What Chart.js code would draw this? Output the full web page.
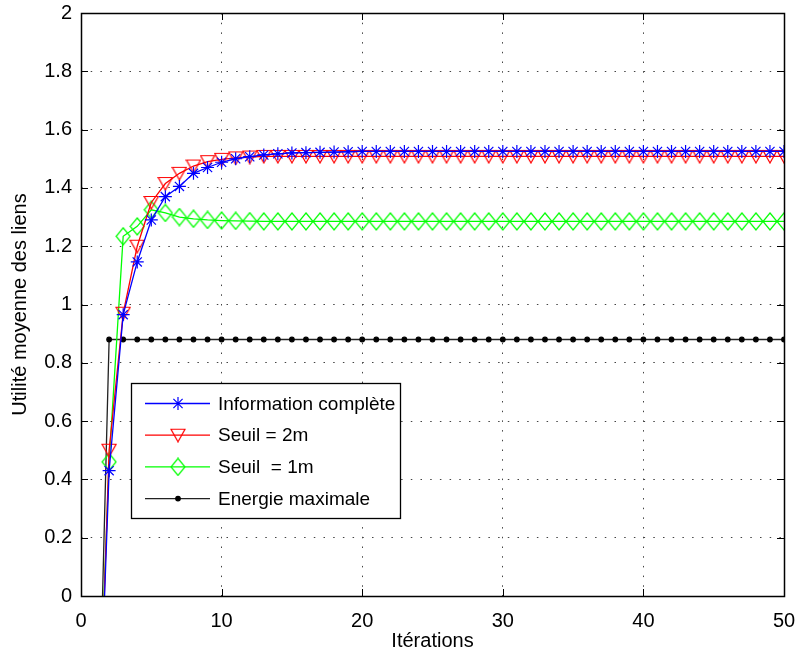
<!DOCTYPE html>
<html>
<head>
<meta charset="utf-8">
<script src="https://cdn.jsdelivr.net/npm/chart.js@4.4.0/dist/chart.umd.min.js"></script>
<style>
html, body { margin: 0; padding: 0; background: #fff; }
#wrap { width: 797px; height: 656px; }
</style>
</head>
<body>
<div id="wrap"><canvas id="chart" width="797" height="656"></canvas></div>
<script>
const iterations = [
    1, 2, 3, 4, 5, 6, 7, 8, 9, 10,
    11, 12, 13, 14, 15, 16, 17, 18, 19, 20,
    21, 22, 23, 24, 25, 26, 27, 28, 29, 30,
    31, 32, 33, 34, 35, 36, 37, 38, 39, 40,
    41, 42, 43, 44, 45, 46, 47, 48, 49, 50
];

const infoComplete = [
    -0.9, 0.43, 0.965, 1.146, 1.29, 1.37, 1.405, 1.45, 1.47, 1.488,
    1.5, 1.507, 1.513, 1.517, 1.52, 1.521, 1.522, 1.523, 1.524, 1.525,
    1.525, 1.525, 1.525, 1.525, 1.525, 1.525, 1.525, 1.525, 1.525, 1.525,
    1.525, 1.525, 1.525, 1.525, 1.525, 1.525, 1.525, 1.525, 1.525, 1.525,
    1.525, 1.525, 1.525, 1.525, 1.525, 1.525, 1.525, 1.525, 1.525, 1.525
];

const seuil2m = [
    -0.95, 0.5, 0.97, 1.2, 1.35, 1.415, 1.45, 1.475, 1.49, 1.498,
    1.503, 1.506, 1.508, 1.508, 1.508, 1.508, 1.508, 1.508, 1.508, 1.508,
    1.508, 1.508, 1.508, 1.508, 1.508, 1.508, 1.508, 1.508, 1.508, 1.508,
    1.508, 1.508, 1.508, 1.508, 1.508, 1.508, 1.508, 1.508, 1.508, 1.508,
    1.508, 1.508, 1.508, 1.508, 1.508, 1.508, 1.508, 1.508, 1.508, 1.508
];

const seuil1m = [
    -0.8, 0.46, 1.234, 1.268, 1.325, 1.314, 1.3, 1.294, 1.29, 1.288,
    1.287, 1.286, 1.285, 1.285, 1.285, 1.285, 1.285, 1.285, 1.285, 1.285,
    1.285, 1.285, 1.285, 1.285, 1.285, 1.285, 1.285, 1.285, 1.285, 1.285,
    1.285, 1.285, 1.285, 1.285, 1.285, 1.285, 1.285, 1.285, 1.285, 1.285,
    1.285, 1.285, 1.285, 1.285, 1.285, 1.285, 1.285, 1.285, 1.285, 1.285
];

const energieMax = [
    -1.0, 0.88, 0.88, 0.88, 0.88, 0.88, 0.88, 0.88, 0.88, 0.88,
    0.88, 0.88, 0.88, 0.88, 0.88, 0.88, 0.88, 0.88, 0.88, 0.88,
    0.88, 0.88, 0.88, 0.88, 0.88, 0.88, 0.88, 0.88, 0.88, 0.88,
    0.88, 0.88, 0.88, 0.88, 0.88, 0.88, 0.88, 0.88, 0.88, 0.88,
    0.88, 0.88, 0.88, 0.88, 0.88, 0.88, 0.88, 0.88, 0.88, 0.88
];

const seriesLabels = ['Information complète', 'Seuil = 2m', 'Seuil  = 1m', 'Energie maximale'];
const xTicks = [0, 10, 20, 30, 40, 50];
const yTicks = [0, 0.2, 0.4, 0.6, 0.8, 1, 1.2, 1.4, 1.6, 1.8, 2];
const xTitle = 'Itérations';
const yTitle = 'Utilité moyenne des liens';

const FONT = 'Liberation Sans, Arial, Helvetica, sans-serif';

// matlab-like open markers
function triangleMarker(color) {
    const c = document.createElement('canvas');
    c.width = 16; c.height = 15;
    const g = c.getContext('2d');
    g.strokeStyle = color;
    g.lineWidth = 1.2;
    g.beginPath();
    g.moveTo(1, 1.5);
    g.lineTo(15, 1.5);
    g.lineTo(8, 14);
    g.closePath();
    g.stroke();
    return c;
}

function diamondMarker(color) {
    const c = document.createElement('canvas');
    c.width = 16; c.height = 19;
    const g = c.getContext('2d');
    g.strokeStyle = color;
    g.lineWidth = 1.2;
    g.beginPath();
    g.moveTo(8, 1);
    g.lineTo(15, 9.5);
    g.lineTo(8, 18);
    g.lineTo(1, 9.5);
    g.closePath();
    g.stroke();
    return c;
}

const frame = {
    id: 'frame',
    afterDatasetsDraw(chart) {
        const ctx = chart.ctx;
        const a = chart.chartArea;
        const xs = chart.scales.x, ys = chart.scales.y;
        const tl = 7;
        ctx.save();
        ctx.strokeStyle = '#000';
        ctx.lineWidth = 1;
        ctx.beginPath();
        xTicks.forEach(v => {
            const px = Math.round(xs.getPixelForValue(v)) + 0.5;
            ctx.moveTo(px, a.bottom); ctx.lineTo(px, a.bottom - tl);
            ctx.moveTo(px, a.top); ctx.lineTo(px, a.top + tl);
        });
        yTicks.forEach(v => {
            const py = Math.round(ys.getPixelForValue(v)) + 0.5;
            ctx.moveTo(a.left, py); ctx.lineTo(a.left + tl, py);
            ctx.moveTo(a.right, py); ctx.lineTo(a.right - tl, py);
        });
        ctx.stroke();
        ctx.lineWidth = 1.5;
        ctx.strokeRect(Math.round(a.left) + 0.5, Math.round(a.top) + 0.5,
            Math.round(a.right - a.left), Math.round(a.bottom - a.top));
        ctx.restore();
    },
    afterDraw(chart) {
        const ctx = chart.ctx;
        const bx = 131.5, by = 383.5, bw = 269, bh = 135;
        ctx.save();
        ctx.fillStyle = '#fff';
        ctx.fillRect(bx, by, bw, bh);
        ctx.strokeStyle = '#000';
        ctx.lineWidth = 1.3;
        ctx.strokeRect(bx, by, bw, bh);
        chart.data.datasets.forEach((ds, i) => {
            const y = 403.5 + i * 31.7;
            ctx.strokeStyle = ds.borderColor;
            ctx.lineWidth = ds.borderWidth;
            ctx.beginPath();
            ctx.moveTo(145, y);
            ctx.lineTo(210, y);
            ctx.stroke();
            ctx.fillStyle = ds.pointBackgroundColor;
            ctx.strokeStyle = ds.pointBorderColor;
            ctx.lineWidth = ds.pointBorderWidth;
            Chart.helpers.drawPoint(ctx, {
                pointStyle: ds.pointStyle,
                rotation: 0,
                radius: ds.pointRadius,
                borderWidth: ds.pointBorderWidth
            }, 178, y);
            ctx.fillStyle = '#000';
            ctx.font = '19px ' + FONT;
            ctx.textAlign = 'left';
            ctx.textBaseline = 'middle';
            ctx.fillText(ds.label, 218, y + 1);
        });
        ctx.restore();
    }
};

function series(label, data, color, style, radius, lineColor) {
    return {
        label: label,
        data: data,
        borderColor: lineColor || color,
        borderWidth: 1.3,
        pointStyle: style,
        pointRadius: radius,
        pointBorderColor: color,
        pointBackgroundColor: style === 'circle' ? color : 'rgba(0,0,0,0)',
        pointBorderWidth: 1.2,
        tension: 0,
        fill: false
    };
}

new Chart(document.getElementById('chart').getContext('2d'), {
    type: 'line',
    data: {
        labels: iterations,
        datasets: [
            series(seriesLabels[0], infoComplete, '#0000ff', 'star', 6.5),
            series(seriesLabels[1], seuil2m, '#ff0000', triangleMarker('#ff0000'), 8),
            series(seriesLabels[2], seuil1m, '#00ff00', diamondMarker('#00ff00'), 8),
            series(seriesLabels[3], energieMax, '#000000', 'circle', 2.3, '#222222')
        ]
    },
    options: {
        responsive: false,
        animation: false,
        layout: { autoPadding: false, padding: { top: 13, right: 13, left: 0, bottom: 0 } },
        plugins: {
            legend: { display: false },
            tooltip: { enabled: false }
        },
        scales: {
            x: {
                type: 'linear',
                min: 0,
                max: 50,
                afterBuildTicks: s => { s.ticks = xTicks.map(v => ({ value: v })); },
                afterFit: s => { s.height = 60; s.paddingLeft = 0; s.paddingRight = 0; },
                ticks: {
                    color: '#000',
                    padding: 13,
                    maxRotation: 0,
                    font: { family: FONT, size: 20 },
                    callback: v => String(v)
                },
                grid: { color: '#444', lineWidth: 1, drawTicks: false },
                border: { display: false, dash: [1.5, 8.2] },
                title: {
                    display: true,
                    text: xTitle,
                    color: '#000',
                    font: { family: FONT, size: 20 },
                    padding: { top: 0, bottom: 3 }
                }
            },
            y: {
                min: 0,
                max: 2,
                afterBuildTicks: s => { s.ticks = yTicks.map(v => ({ value: v })); },
                afterFit: s => { s.width = 81; s.paddingTop = 0; s.paddingBottom = 0; },
                ticks: {
                    color: '#000',
                    padding: 9,
                    font: { family: FONT, size: 20 },
                    callback: v => String(+v.toFixed(1))
                },
                grid: { color: '#444', lineWidth: 1, drawTicks: false },
                border: { display: false, dash: [1.5, 8.2] },
                title: {
                    display: true,
                    text: yTitle,
                    color: '#000',
                    font: { family: FONT, size: 20 },
                    padding: { top: 8, bottom: 0 }
                }
            }
        }
    },
    plugins: [frame]
});
</script>
</body>
</html>
